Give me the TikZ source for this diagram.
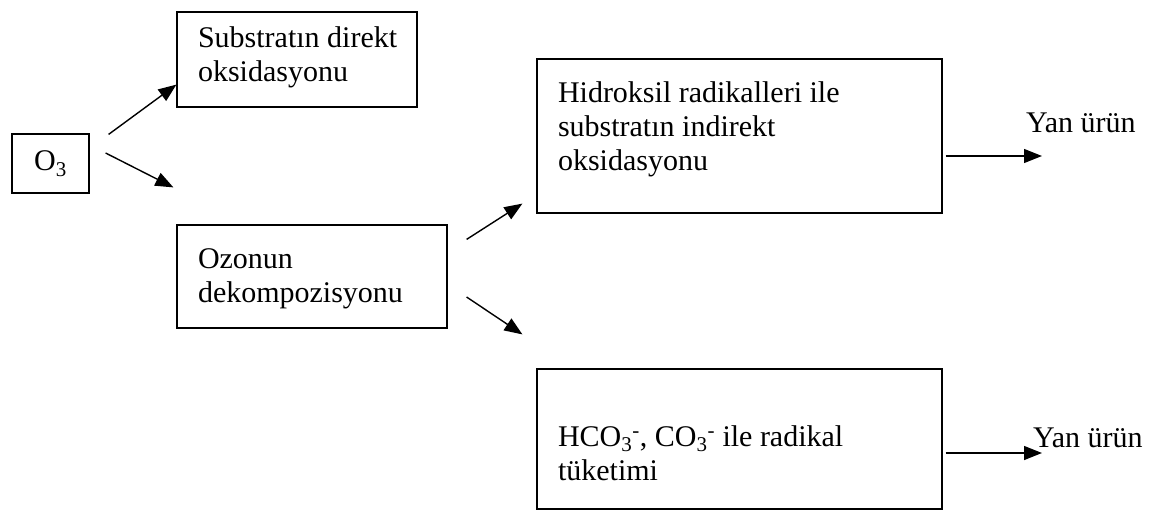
\documentclass[tikz,border=0pt]{standalone}
\usepackage{fontspec}
\setmainfont{Liberation Serif}
\usetikzlibrary{arrows.meta}
\tikzset{
  every node/.style={font=\fontsize{30}{34}\selectfont}, % Times-like text everywhere
  box/.style={draw, line width=1.2pt, align=flush left, inner xsep=21pt, inner ysep=0pt}, % plain rectangles
  textlift/.style={execute at end node={\par\vspace*{#1}}}, % moves the text up (or down, if negative) by half of #1
  arr/.style={-{Triangle[length=18pt, width=14pt]}, line width=1.4pt}, % filled arrow heads
}

\begin{document}
\begin{tikzpicture}[x=1pt, y=-1pt]
  \useasboundingbox (0,0) rectangle (1157,512);

  % Boxes
  \node[box, align=center, inner xsep=0pt, minimum width=77pt, minimum height=59pt] (ozone) at (50.5,163.5) {O\textsubscript{3}};
  \node[box, text width=198pt, minimum height=95pt, textlift=5pt] (direct) at (297,59.5) {\mbox{Substratın direkt}\\oksidasyonu};
  \node[box, text width=228pt, minimum height=103pt, textlift=-4pt] (decomp) at (312,276.5) {Ozonun\\dekompozisyonu};
  \node[box, text width=363pt, minimum height=154pt, textlift=14pt] (indirect) at (739.5,136) {Hidroksil radikalleri ile\\substratın indirekt\\oksidasyonu};
  \node[box, text width=363pt, minimum height=140pt, textlift=-28pt] (scav) at (739.5,439) {HCO\textsubscript{3}\textsuperscript{-}, CO\textsubscript{3}\textsuperscript{-} ile radikal\\tüketimi};

  % Products
  \coordinate (tip1) at (1042,156);
  \coordinate (tip2) at (1042,453);
  \node[anchor=base west, inner sep=0pt] (yan1) at (1026,132) {Yan ürün};
  \node[anchor=base west, inner sep=0pt] (yan2) at (1033,447) {Yan ürün};

  % Arrows
  \draw[arr] ([xshift=19pt, yshift=-1pt]ozone.north east) -- ([yshift=23pt]direct.south west);
  \draw[arr] ([xshift=16pt, yshift=10.5pt]ozone.east) -- ([xshift=-3pt, yshift=37pt]decomp.north west);
  \draw[arr] ([xshift=19pt, yshift=-15pt]decomp.north east) -- ([xshift=-14pt, yshift=10pt]indirect.south west);
  \draw[arr] ([xshift=19pt, yshift=-20.5pt]decomp.east) -- ([xshift=-14pt, yshift=34pt]scav.north west);
  \draw[arr] ([xshift=3pt, yshift=-20pt]indirect.east) -- (tip1);
  \draw[arr] ([xshift=3pt, yshift=-14pt]scav.east) -- (tip2);
\end{tikzpicture}
\end{document}
